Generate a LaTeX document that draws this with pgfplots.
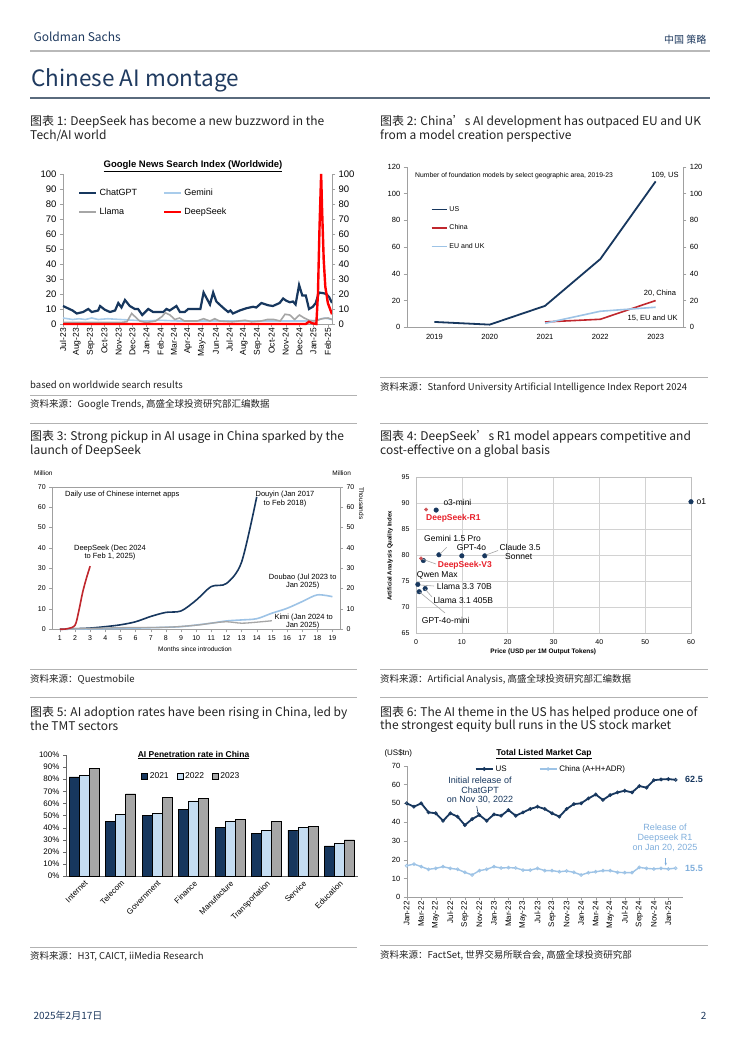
\documentclass[border=0pt]{standalone}
\usepackage{fontspec}
\setmainfont{Noto Sans CJK SC}
\newfontfamily\arial{Liberation Sans}
\usepackage{pgfplots}
\pgfplotsset{compat=1.18}
\usetikzlibrary{arrows.meta}

\definecolor{gsnavy}{HTML}{17375E}
\definecolor{gslight}{HTML}{9DC3E6}
\definecolor{gemini}{HTML}{A9CCEB}
\definecolor{gsgray}{HTML}{A6A6A6}
\definecolor{gsred}{HTML}{C0272D}
\definecolor{dsred}{HTML}{FF0000}
\definecolor{lblred}{HTML}{E8202A}
\definecolor{axgray}{HTML}{A0A0A0}
\definecolor{titlenavy}{HTML}{1F3A5F}
\definecolor{bar22}{HTML}{C5DDF2}
\definecolor{relblue}{HTML}{7FAEDC}
\definecolor{txt}{HTML}{222222}

\newcommand\af[1]{\arial\fontsize{#1}{#1}\selectfont}
\newcommand\mf[1]{\fontsize{#1}{#1}\selectfont}

\pgfplotsset{
  gsbase/.style={
    scale only axis, anchor=south west, clip=false,
    axis line style={draw=axgray},
    tick style={draw=axgray},
    tick align=outside, major tick length=3pt,
    /pgf/number format/assume math mode=true,
    tick label style={font=\af{8}, text=black},
  },
}

\begin{document}
\begin{tikzpicture}
\useasboundingbox[fill=white] (0pt,0pt) rectangle (740pt,-1056pt);

% ---------- page header ----------
\node[anchor=west, text=titlenavy, font=\mf{12}] at (30pt,-37pt) {Goldman Sachs};
\node[anchor=east, text=titlenavy, font=\mf{10}] at (710pt,-40pt) {中国 策略};
\draw[line width=1.5pt, gray!55] (30pt,-51pt) -- (710pt,-51pt);
\node[anchor=west, text=titlenavy, font=\mf{22.5}] at (28pt,-80pt) {Chinese AI montage};
\draw[line width=1.2pt, color={rgb,255:red,90;green,107;blue,125}] (30pt,-98pt) -- (710pt,-98pt);

% ---------- captions ----------
\begin{scope}[every node/.style={anchor=west, text=txt, font=\mf{12}, inner sep=0pt}]
\node at (30pt,-122pt) {图表 1: DeepSeek has become a new buzzword in the};
\node at (30pt,-136pt) {Tech/AI world};
\node at (380pt,-122pt) {图表 2: China’s AI development has outpaced EU and UK};
\node at (380pt,-136pt) {from a model creation perspective};
\node at (30pt,-437pt) {图表 3: Strong pickup in AI usage in China sparked by the};
\node at (30pt,-451pt) {launch of DeepSeek};
\node at (380pt,-437pt) {图表 4: DeepSeek’s R1 model appears competitive and};
\node at (380pt,-451pt) {cost-effective on a global basis};
\node at (30pt,-712.5pt) {图表 5: AI adoption rates have been rising in China, led by};
\node at (30pt,-726pt) {the TMT sectors};
\node at (380pt,-712.5pt) {图表 6: The AI theme in the US has helped produce one of};
\node at (380pt,-726pt) {the strongest equity bull runs in the US stock market};
\end{scope}

% ---------- sources and separators ----------
\begin{scope}[every node/.style={anchor=west, text=txt, font=\mf{9.5}, inner sep=0pt}]
\node at (30pt,-385pt) {based on worldwide search results};
\node at (30pt,-405pt) {资料来源：Google Trends, 高盛全球投资研究部汇编数据};
\node at (380pt,-388pt) {资料来源：Stanford University Artificial Intelligence Index Report 2024};
\node at (30pt,-679pt) {资料来源：Questmobile};
\node at (380pt,-680pt) {资料来源：Artificial Analysis, 高盛全球投资研究部汇编数据};
\node at (30pt,-956pt) {资料来源：H3T, CAICT, iiMedia Research};
\node at (380pt,-955pt) {资料来源：FactSet, 世界交易所联合会, 高盛全球投资研究部};
\end{scope}
\begin{scope}[line width=0.8pt, gray!60]
\draw (30pt,-395pt) -- (357pt,-395pt);
\draw (380pt,-377pt) -- (708pt,-377pt);
\draw (30pt,-423pt) -- (357pt,-423pt);
\draw (380pt,-423pt) -- (708pt,-423pt);
\draw (30pt,-669pt) -- (357pt,-669pt);
\draw (380pt,-669pt) -- (708pt,-669pt);
\draw (30pt,-697pt) -- (357pt,-697pt);
\draw (380pt,-697pt) -- (708pt,-697pt);
\draw (30pt,-947pt) -- (357pt,-947pt);
\draw (380pt,-945pt) -- (708pt,-945pt);
\end{scope}

% ---------- footer ----------
\node[anchor=west, text=titlenavy, font=\mf{10}] at (30pt,-1016pt) {2025年2月17日};
\node[anchor=east, text=titlenavy, font=\mf{10}] at (710pt,-1016pt) {2};

% =====================================================
% Chart 1: Google News Search Index
% =====================================================
\node[font=\af{9.5}\bfseries] at (193pt,-166pt) {\underline{Google News Search Index (Worldwide)}};
\begin{axis}[gsbase, at={(63pt,-324pt)}, width=269pt, height=150pt,
  xmin=0, xmax=84.2, ymin=0, ymax=100, ytick={0,10,...,100},
  axis x line*=bottom, axis y line*=left,
  xtick={0,4.29,8.71,13,17.43,21.71,26.14,30.57,34.71,39.14,43.43,47.86,52.14,56.57,61,65.29,69.71,74,78.43,82.86},
  xticklabels={Jul-23,Aug-23,Sep-23,Oct-23,Nov-23,Dec-23,Jan-24,Feb-24,Mar-24,Apr-24,May-24,Jun-24,Jul-24,Aug-24,Sep-24,Oct-24,Nov-24,Dec-24,Jan-25,Feb-25},
  xticklabel style={rotate=90, anchor=east, font=\af{8.5}, inner sep=1pt},
  yticklabel style={font=\af{9.5}},
  legend style={at={(0.045,0.93)}, anchor=north west, draw=none, fill=none,
    font=\af{9}, row sep=7pt, legend columns=2,
    /tikz/every even column/.append style={column sep=24pt}},
  legend cell align=left,
  legend image code/.code={\draw[#1] (0pt,0pt) -- (17pt,0pt);},
]
\addplot[gsnavy, line width=2.2pt] coordinates {
(0,12) (1,11) (2,10) (3,9) (4.3,7) (5.3,7.5) (6.3,8) (7.9,10) (9,8) (10,8.5) (11,9) (11.6,12)
(13.1,9.5) (14.7,8) (16.3,9) (17.3,14) (18.3,11) (19.4,16) (20.9,12) (22.5,10) (23.5,10) (24.8,6)
(26.7,10) (28.2,8) (31.4,8) (32.4,10) (33.4,9) (35.5,12) (36.6,8) (38.1,8) (39.2,10) (43,10)
(44,21) (45,17) (46,13) (47,21) (48,15) (49,13) (50.3,10.5) (51.7,8) (52.4,9) (53.2,7) (55.3,9)
(57.4,10.5) (59.5,11.5) (60.5,11) (62.1,14) (64.2,12.5) (65.7,12) (67.8,14) (68.9,17) (69.9,15.5)
(71,14.5) (72,15) (72.8,13) (73.9,26) (74.9,19) (76,19) (77,10) (78.2,11.5) (79.1,14) (80.1,21)
(81.6,20.5) (82.4,20) (83.3,18) (84.2,14)};
\addlegendentry{ChatGPT}
\addplot[gemini, line width=1.6pt] coordinates {
(0,4) (3,3) (5,3.5) (7,3) (9,4) (11,3) (14,3.5) (18,3) (22,2.5) (26,2) (30,2.5) (36,2)
(44,2) (50,2) (60,2) (70,2) (78,2) (80,3) (82,4) (84.2,3)};
\addlegendentry{Gemini}
\addplot[gsgray, line width=1.6pt] coordinates {
(0,1) (10,1) (18,1) (20,1.5) (21.5,7) (23,4) (24,2) (26,1) (29,2) (31,5) (32,7.5) (33.5,6)
(35,3) (36.5,4) (38,2) (42,2) (44,3.5) (46,2) (47.5,3.5) (49,2) (53,1.5) (57,2.5) (59,1.5)
(62,2) (64,3) (66,3) (68,2) (69.5,6.5) (71,6) (72.5,3) (74,6) (75.5,4) (77,2.5) (79,2)
(81,3.5) (83,4) (84.2,3)};
\addlegendentry{Llama}
\addplot[dsred, line width=2.4pt] coordinates {
(0,0) (76,0) (77,1.5) (78,0.5) (79.3,0) (79.8,20) (80.3,65) (80.8,100) (81.1,76) (81.6,43)
(82.1,25) (82.9,14) (84.2,6.5)};
\addlegendentry{DeepSeek}
\end{axis}
\begin{axis}[gsbase, at={(63pt,-324pt)}, width=269pt, height=150pt,
  xmin=0, xmax=84.2, ymin=0, ymax=100, ytick={0,10,...,100},
  axis y line*=right, axis x line=none, yticklabel style={font=\af{9.5}}]
\addplot[draw=none] coordinates {(0,0)};
\end{axis}

% =====================================================
% Chart 2: foundation models
% =====================================================
\begin{axis}[gsbase, at={(406.7pt,-327.3pt)}, width=276.6pt, height=160.6pt,
  xmin=-0.5, xmax=4.5, ymin=0, ymax=120, ytick={0,20,...,120},
  axis x line*=bottom, axis y line*=left,
  xtick={0,...,4}, xticklabels={2019,2020,2021,2022,2023},
  xtick style={draw=none}, minor xtick={-0.5,0.5,...,4.5},
  minor tick length=3pt, minor tick style={draw=axgray},
  xticklabel style={font=\af{7.5}}, yticklabel style={font=\af{7.5}},
  legend style={at={(0.075,0.78)}, anchor=north west, draw=none, fill=none,
    font=\af{7}, row sep=8pt},
  legend cell align=left,
  legend image code/.code={\draw[#1] (0pt,0pt) -- (15pt,0pt);},
]
\addplot[gsnavy, line width=1.8pt] coordinates {(0,4) (1,2) (2,16) (3,51) (4,109)};
\addlegendentry{US}
\addplot[color=gsred, line width=1.6pt] coordinates {(2,4) (3,6) (4,20)};
\addlegendentry{China}
\addplot[color=gslight, line width=1.6pt] coordinates {(2,3) (3,12) (4,15)};
\addlegendentry{EU and UK}
\end{axis}
\begin{axis}[gsbase, at={(406.7pt,-327.3pt)}, width=276.6pt, height=160.6pt,
  xmin=-0.5, xmax=4.5, ymin=0, ymax=120, ytick={0,20,...,120},
  axis y line*=right, axis x line=none, yticklabel style={font=\af{7.5}}]
\addplot[draw=none] coordinates {(0,0)};
\end{axis}
\node[anchor=west, font=\af{6.8}] at (411.7pt,-175.7pt) {Number of foundation models by select geographic area, 2019-23};
\node[font=\af{7.5}] at (665pt,-175.7pt) {109, US};
\node[font=\af{7.5}] at (660pt,-293.3pt) {20, China};
\node[font=\af{7.5}] at (652.7pt,-318.3pt) {15, EU and UK};

% =====================================================
% Chart 3: daily use of Chinese internet apps
% =====================================================
\begin{axis}[gsbase, at={(52.3pt,-629.3pt)}, width=287.7pt, height=142.6pt,
  xmin=0.5, xmax=19.5, ymin=0, ymax=70, ytick={0,10,...,70}, xtick={1,...,19},
  ytick pos=left, xtick pos=bottom,
  xticklabel style={font=\af{7}}, yticklabel style={font=\af{7}},
]
\addplot[gsnavy, line width=1.6pt, smooth, tension=0.5] coordinates {
(1,0.2) (2,0.3) (3,0.6) (4,1.3) (5,2.2) (6,3.7) (7,6.3) (8,8.3) (9,9) (10,14.3) (11,21)
(12,22.5) (13,33) (14,65)};
\addplot[gslight, line width=1.6pt, smooth, tension=0.5] coordinates {
(1,0) (4,0.3) (6,0.6) (8,1) (9,1.3) (10,2.1) (11,3) (12,4.1) (13,4.6) (14,5.2) (15,7.9)
(16,10.3) (17,13.6) (18,16.9) (19,16)};
\addplot[gsgray, line width=1.3pt, smooth, tension=0.5] coordinates {
(1,0) (5,0.8) (8,1) (10,2) (11,3) (12,3.7) (13,3) (14,3.5) (15,4.2)};
\addplot[gsred, line width=1.6pt, smooth, tension=0.5] coordinates {
(1,0) (1.5,0.3) (2,2) (2.25,9) (2.5,18) (2.75,25) (3,31)};
\end{axis}
\begin{axis}[gsbase, at={(52.3pt,-629.3pt)}, width=287.7pt, height=142.6pt,
  xmin=0.5, xmax=19.5, ymin=0, ymax=70, ytick={0,10,...,70},
  axis y line*=right, axis x line=none, yticklabel style={font=\af{7}}]
\addplot[draw=none] coordinates {(1,0)};
\end{axis}
\node[font=\af{6.5}] at (43.3pt,-473.3pt) {Million};
\node[font=\af{6.5}] at (341.7pt,-473.3pt) {Million};
\node[rotate=-90, anchor=north west, font=\af{6.5}, inner sep=0pt] at (364pt,-487pt) {Thousands};
\node[font=\af{6.5}] at (195pt,-649pt) {Months since introduction};
\begin{scope}[every node/.style={font=\af{7.5}, inner sep=0pt}]
\node[anchor=west] at (65pt,-495pt) {Daily use of Chinese internet apps};
\node at (285pt,-495pt) {Douyin (Jan 2017};
\node at (285pt,-503.5pt) {to Feb 2018)};
\node at (110pt,-548.3pt) {DeepSeek (Dec 2024};
\node at (110pt,-556.8pt) {to Feb 1, 2025)};
\node at (302.7pt,-577.3pt) {Doubao (Jul 2023 to};
\node at (302.7pt,-585.8pt) {Jan 2025)};
\node at (303.7pt,-617.5pt) {Kimi (Jan 2024 to};
\node at (302.7pt,-626pt) {Jan 2025)};
\end{scope}

% =====================================================
% Chart 4: quality vs price
% =====================================================
\begin{axis}[gsbase, at={(416pt,-633.3pt)}, width=275pt, height=156pt,
  xmin=0, xmax=60, ymin=65, ymax=95, xtick={0,10,...,60}, ytick={65,70,...,95},
  grid=major, major grid style={draw=gray!35, line width=0.5pt},
  axis line style={draw=gray!50}, tick style={draw=none},
  xticklabel style={font=\af{7}}, yticklabel style={font=\af{7}},
]
\addplot[only marks, mark=*, mark size=2.3pt, mark options={fill=gsnavy, draw=gsnavy}] coordinates {
(60,90.3) (4.4,88.7) (5,80.1) (10,79.9) (15,79.9) (1.6,79) (0.4,74.4) (2,73.6) (0.7,73)};
\addplot[only marks, mark=*, mark size=1.7pt, mark options={fill=gsred!80, draw=gsred!80}] coordinates {
(2.2,88.8) (1.1,79.4)};
\end{axis}
\node[font=\af{6.5}\bfseries] at (543.3pt,-652.3pt) {Price (USD per 1M Output Tokens)};
\node[rotate=90, font=\af{6}\bfseries] at (390pt,-556pt) {Artificial Analysis Quality Index};
\begin{scope}[gray!70, line width=0.6pt]
\draw (446.7pt,-547.3pt) -- (440pt,-554pt);
\draw (486pt,-555pt) -- (498pt,-550.5pt);
\draw (422pt,-559pt) -- (436pt,-564pt);
\draw (420pt,-585pt) -- (434pt,-586pt);
\draw (425pt,-589pt) -- (432pt,-597pt);
\draw (419.5pt,-592pt) -- (445pt,-613pt);
\end{scope}
\begin{scope}[every node/.style={font=\af{8.5}, anchor=west, inner sep=0pt}]
\node at (696.5pt,-501.7pt) {o1};
\node at (443.3pt,-502.7pt) {o3-mini};
\node[text=lblred, font=\af{8.5}\bfseries] at (426pt,-518.7pt) {DeepSeek-R1};
\node at (424pt,-538.3pt) {Gemini 1.5 Pro};
\node at (456.7pt,-547.7pt) {GPT-4o};
\node at (499.3pt,-547.3pt) {Claude 3.5};
\node at (505pt,-556.7pt) {Sonnet};
\node[text=lblred, font=\af{8.5}\bfseries] at (437.7pt,-565.3pt) {DeepSeek-V3};
\node at (416.7pt,-575pt) {Qwen Max};
\node at (436.7pt,-586pt) {Llama 3.3 70B};
\node at (433.3pt,-600pt) {Llama 3.1 405B};
\node at (421.7pt,-620pt) {GPT-4o-mini};
\end{scope}

% =====================================================
% Chart 5: AI penetration rate
% =====================================================
\node[font=\af{8.5}\bfseries] at (193.5pt,-755pt) {\underline{AI Penetration rate in China}};
\begin{axis}[gsbase, at={(66pt,-876pt)}, width=291.6pt, height=121pt,
  ybar=0pt, bar width=10pt,
  xmin=-0.5, xmax=7.5, ymin=0, ymax=100, ytick={0,10,...,100},
  axis x line*=bottom, axis y line*=left,
  axis line style={draw=gray!80!black}, tick style={draw=gray!80!black},
  xtick={0,...,7}, xtick style={draw=none},
  xticklabels={Internet,Telecom,Government,Finance,Manufacture,Transportation,Service,Education},
  xticklabel style={rotate=45, anchor=north east, font=\af{8}, inner sep=0.5pt},
  yticklabel={\pgfmathprintnumber{\tick}\%}, yticklabel style={font=\af{8}},
  legend style={at={(0.43,0.826)}, anchor=center, draw=none, fill=none,
    font=\af{8.5}, legend columns=3,
    /tikz/every even column/.append style={column sep=6pt}},
  legend image code/.code={\draw[#1, draw=black, line width=0.4pt] (0pt,-3pt) rectangle (6pt,3pt);},
]
\addplot[fill=gsnavy, draw=black, line width=0.4pt] coordinates {
(0,82) (1,45) (2,50) (3,55) (4,40) (5,35) (6,38) (7,25)};
\addlegendentry{2021}
\addplot[fill=bar22, draw=black, line width=0.4pt] coordinates {
(0,83) (1,51) (2,52) (3,62) (4,45) (5,38) (6,40) (7,27)};
\addlegendentry{2022}
\addplot[fill=gsgray, draw=black, line width=0.4pt] coordinates {
(0,89) (1,68) (2,65) (3,64) (4,47) (5,45) (6,41) (7,30)};
\addlegendentry{2023}
\end{axis}

% =====================================================
% Chart 6: total listed market cap
% =====================================================
\node[font=\af{8.5}\bfseries] at (544pt,-754.3pt) {\underline{Total Listed Market Cap}};
\node[font=\af{8}] at (398.3pt,-753.3pt) {(US\$tn)};
\begin{axis}[gsbase, at={(406.7pt,-897.3pt)}, width=276.2pt, height=131.6pt,
  xmin=0, xmax=38, ymin=0, ymax=70, ytick={0,10,...,70},
  axis x line*=bottom, axis y line*=left,
  xtick={0,2,...,36},
  xticklabels={Jan-22,Mar-22,May-22,Jul-22,Sep-22,Nov-22,Jan-23,Mar-23,May-23,Jul-23,Sep-23,Nov-23,Jan-24,Mar-24,May-24,Jul-24,Sep-24,Nov-24,Jan-25},
  xticklabel style={rotate=90, anchor=east, font=\af{8}, inner sep=1pt},
  yticklabel style={font=\af{7.5}},
  legend style={at={(0.235,0.975)}, anchor=west, draw=none, fill=none,
    font=\af{8}, legend columns=2,
    /tikz/every even column/.append style={column sep=30pt}},
]
\addplot[gsnavy, line width=1.8pt, mark=o, mark size=1.5pt,
  mark options={fill=white, line width=0.8pt}] table[x expr=\coordindex, y index=0] {
50
48.2
50
45.2
44.7
40.7
44.7
42.9
38.4
41.6
43.8
40.7
44.1
43.4
46.4
43.4
45.2
47
48.2
47
44.7
42.9
47
49.6
50
52.6
54.7
51.8
54.4
55.8
56.7
55.8
59.2
58.3
62.3
62.7
62.9
62.5
};
\addlegendentry{US}
\addplot[gslight, line width=1.4pt, mark=o, mark size=1.5pt,
  mark options={fill=white, line width=0.7pt}] table[x expr=\coordindex, y index=0] {
16.8
17.7
16.3
14.9
15.4
16.3
15.4
14.9
13.3
11.9
14.2
14.9
16.3
15.6
15.8
15.6
14.5
14.5
15.4
14.2
14.2
13.6
14
13.3
11.9
13.1
13.6
14.2
14.2
13.3
13.1
13.1
15.9
15.4
15.1
15.4
15.1
15.5
};
\addlegendentry{China (A+H+ADR)}
\end{axis}
\begin{scope}[every node/.style={font=\af{9}, text=gsnavy, inner sep=0pt}]
\node at (480pt,-780pt) {Initial release of};
\node at (480pt,-790pt) {ChatGPT};
\node at (480pt,-800pt) {on Nov 30, 2022};
\end{scope}
\draw[gsnavy, line width=0.6pt, -{Stealth[length=3pt]}] (476.7pt,-806pt) -- (478.3pt,-815pt);
\begin{scope}[every node/.style={font=\af{9}, text=relblue, inner sep=0pt}]
\node at (665pt,-827.7pt) {Release of};
\node at (665pt,-837.7pt) {Deepseek R1};
\node at (665pt,-847.7pt) {on Jan 20, 2025};
\end{scope}
\draw[relblue, line width=0.6pt, -{Stealth[length=3pt]}] (665.7pt,-858pt) -- (665.7pt,-865.7pt);
\node[anchor=west, font=\af{9}\bfseries, text=gsnavy] at (681.7pt,-779.3pt) {62.5};
\node[anchor=west, font=\af{9}\bfseries, text=relblue] at (681.7pt,-868.3pt) {15.5};

\end{tikzpicture}
\end{document}
